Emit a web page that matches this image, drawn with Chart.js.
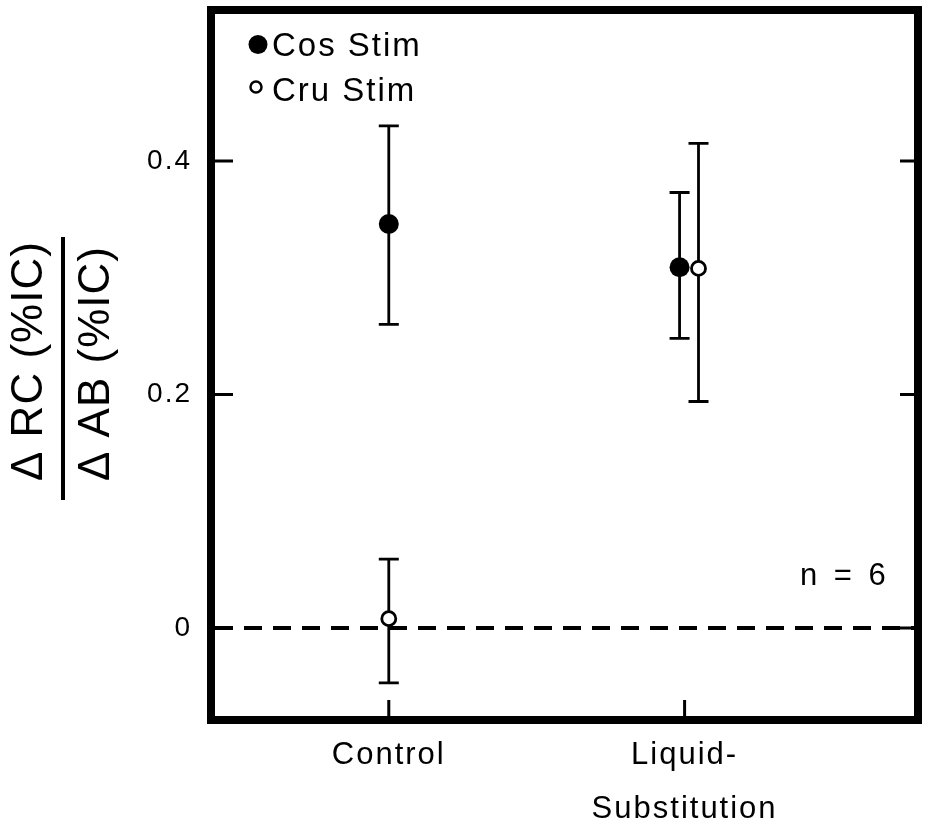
<!DOCTYPE html>
<html>
<head>
<meta charset="utf-8">
<script src="https://cdn.jsdelivr.net/npm/chart.js@4"></script>
<style>
  html, body { margin: 0; padding: 0; background: #fff; }
  #wrap { width: 928px; height: 819px; }
</style>
</head>
<body>
<div id="wrap"><canvas id="c" width="928" height="819"></canvas></div>
<script>
// Ratio of response changes for the two stimulation sites, mean ± error
const categories = ['Control', ['Liquid-', 'Substitution']];
const seriesNames = ['Cos Stim', 'Cru Stim'];
const cosMean  = [0.346, 0.309];
const cosUpper = [0.430, 0.373];
const cosLower = [0.260, 0.248];
const cruMean  = [0.008, 0.308];
const cruUpper = [0.059, 0.415];
const cruLower = [-0.047, 0.194];
const yTickValues = [0, 0.2, 0.4];
const sampleNote = 'n = 6';
const yTitleTop = 'Δ RC (%IC)';
const yTitleBottom = 'Δ AB (%IC)';

// drawing style
const FONT = '"Liberation Sans", Arial, Helvetica, sans-serif';
const catPos = categories.map((_, i) => i + 1);
const cosShift = [0, -0.017];   // small side-by-side nudge so overlapping markers stay visible
const cruShift = [0, 0.047];

const seriesList = [
  { mean: cosMean, upper: cosUpper, lower: cosLower, shift: cosShift },
  { mean: cruMean, upper: cruUpper, lower: cruLower, shift: cruShift }
];

const decor = {
  id: 'decor',
  beforeDraw(chart) {
    chart.ctx.letterSpacing = '2px';
  },
  beforeDatasetsDraw(chart) {
    const { ctx, chartArea: ca, scales: { x, y } } = chart;
    ctx.save();
    ctx.letterSpacing = '0px';
    // zero reference line
    const y0 = y.getPixelForValue(0);
    ctx.strokeStyle = '#000';
    ctx.lineWidth = 4;
    ctx.setLineDash([18, 11]);
    ctx.beginPath();
    ctx.moveTo(ca.left + 4, y0);
    ctx.lineTo(ca.right, y0);
    ctx.stroke();
    ctx.setLineDash([]);
    // error bars
    ctx.lineWidth = 2.8;
    seriesList.forEach(s => {
      s.mean.forEach((m, i) => {
        const px = x.getPixelForValue(catPos[i] + s.shift[i]);
        const pu = y.getPixelForValue(s.upper[i]);
        const pl = y.getPixelForValue(s.lower[i]);
        ctx.beginPath();
        ctx.moveTo(px, pu); ctx.lineTo(px, pl);
        ctx.moveTo(px - 10, pu); ctx.lineTo(px + 10, pu);
        ctx.moveTo(px - 10, pl); ctx.lineTo(px + 10, pl);
        ctx.stroke();
      });
    });
    ctx.restore();
  },
  afterDraw(chart) {
    const { ctx, chartArea: ca, scales: { x, y } } = chart;
    ctx.save();
    ctx.strokeStyle = '#000';
    ctx.fillStyle = '#000';
    // inward tick marks
    ctx.lineWidth = 3;
    ctx.beginPath();
    yTickValues.forEach(v => {
      const py = y.getPixelForValue(v);
      ctx.moveTo(ca.left, py); ctx.lineTo(ca.left + 22, py);
      ctx.moveTo(ca.right, py); ctx.lineTo(ca.right - 18, py);
    });
    catPos.forEach(v => {
      const px = x.getPixelForValue(v);
      ctx.moveTo(px, ca.bottom); ctx.lineTo(px, ca.bottom - 20);
    });
    ctx.stroke();
    // frame
    ctx.lineWidth = 8;
    ctx.lineJoin = 'miter';
    ctx.strokeRect(ca.left, ca.top, ca.right - ca.left, ca.bottom - ca.top);

    // legend
    const ds = chart.data.datasets;
    ctx.letterSpacing = '2px';
    ctx.font = '33px ' + FONT;
    ctx.textAlign = 'left';
    ctx.textBaseline = 'alphabetic';
    ctx.beginPath();
    ctx.arc(258, 44.5, 9.5, 0, Math.PI * 2);
    ctx.fill();
    ctx.fillText(ds[0].label, 272, 56);
    ctx.beginPath();
    ctx.arc(256, 87, 5.5, 0, Math.PI * 2);
    ctx.fillStyle = '#fff';
    ctx.fill();
    ctx.lineWidth = 2.5;
    ctx.stroke();
    ctx.fillStyle = '#000';
    ctx.fillText(ds[1].label, 272, 101);

    // sample size note
    ctx.font = '31px ' + FONT;
    ctx.letterSpacing = '4px';
    ctx.fillText(sampleNote, 800, 585);

    // y-axis title as a fraction
    ctx.letterSpacing = '1px';
    ctx.font = '44px ' + FONT;
    ctx.textBaseline = 'middle';
    ctx.textAlign = 'left';
    ctx.save();
    ctx.translate(30, 481);
    ctx.rotate(-Math.PI / 2);
    ctx.fillText(yTitleTop, 0, 0);
    ctx.restore();
    ctx.save();
    ctx.translate(97, 481);
    ctx.rotate(-Math.PI / 2);
    ctx.fillText(yTitleBottom, 0, 0);
    ctx.restore();
    ctx.fillRect(61, 237, 4, 263);
    ctx.restore();
  }
};

new Chart(document.getElementById('c'), {
  type: 'scatter',
  data: {
    datasets: [
      {
        label: seriesNames[0],
        data: cosMean.map((v, i) => ({ x: catPos[i] + cosShift[i], y: v })),
        pointStyle: 'circle',
        pointRadius: 10,
        backgroundColor: '#000',
        borderColor: '#000',
        borderWidth: 0
      },
      {
        label: seriesNames[1],
        data: cruMean.map((v, i) => ({ x: catPos[i] + cruShift[i], y: v })),
        pointStyle: 'circle',
        pointRadius: 7,
        backgroundColor: '#fff',
        borderColor: '#000',
        borderWidth: 2.8
      }
    ]
  },
  options: {
    responsive: false,
    animation: false,
    devicePixelRatio: 1,
    layout: { padding: { top: 10, right: 4.5, left: 0, bottom: 0 } },
    plugins: { legend: { display: false }, tooltip: { enabled: false } },
    scales: {
      x: {
        type: 'linear',
        min: 0.399,
        max: 2.789,
        grid: { display: false, drawTicks: false },
        border: { display: false },
        afterBuildTicks: s => { s.ticks = catPos.map(v => ({ value: v })); },
        afterFit: s => { s.height = 99; s.paddingLeft = 0; s.paddingRight = 0; },
        ticks: {
          autoSkip: false,
          maxRotation: 0,
          padding: 8,
          color: '#000',
          font: { family: FONT, size: 31, lineHeight: 1.75 },
          callback: v => categories[catPos.indexOf(v)]
        }
      },
      y: {
        min: -0.0788,
        max: 0.5293,
        grid: { display: false, drawTicks: false },
        border: { display: false },
        afterBuildTicks: s => { s.ticks = yTickValues.map(v => ({ value: v })); },
        afterFit: s => { s.width = 211; s.paddingTop = 0; s.paddingBottom = 0; },
        ticks: {
          autoSkip: false,
          padding: 19,
          color: '#000',
          font: { family: FONT, size: 28 },
          callback: v => String(v)
        }
      }
    }
  },
  plugins: [decor]
});
</script>
</body>
</html>
